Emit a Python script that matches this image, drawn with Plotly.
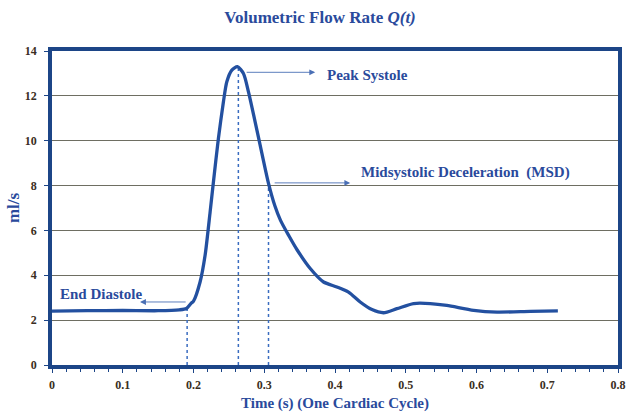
import plotly.graph_objects as go

# Flow-rate curve over one cardiac cycle
time_s = [0.0, 0.05, 0.10, 0.15, 0.18, 0.19, 0.1965, 0.200, 0.2093, 0.2164, 0.2235,
          0.2282, 0.2352, 0.2423, 0.2471, 0.2542, 0.2621, 0.2706, 0.2777, 0.2871,
          0.2966, 0.306, 0.315, 0.323, 0.335, 0.3461, 0.365, 0.3838, 0.4027, 0.4191,
          0.4356, 0.4522, 0.4686, 0.4875, 0.511, 0.5347, 0.558, 0.596, 0.629,
          0.676, 0.715]
flow_mls = [2.40, 2.42, 2.43, 2.42, 2.46, 2.52, 2.75, 2.85, 3.70, 4.89, 6.83,
            8.17, 10.10, 11.74, 12.63, 13.15, 13.30, 13.00, 12.18, 10.84,
            9.45, 8.10, 7.10, 6.45, 5.75, 5.15, 4.30, 3.70, 3.48, 3.25,
            2.81, 2.47, 2.33, 2.51, 2.74, 2.74, 2.66, 2.44, 2.36,
            2.39, 2.41]

# Marker events (time, flow)
event_names = ["End Diastole", "Peak Systole", "Midsystolic Deceleration  (MSD)"]
event_t = [0.191, 0.2634, 0.306]
event_q = [2.52, 13.30, 8.10]

x_ticks = [0, 0.1, 0.2, 0.3, 0.4, 0.5, 0.6, 0.7, 0.8]
x_tick_labels = ["0", "0.1", "0.2", "0.3", "0.4", "0.5", "0.6", "0.7", "0.8"]
y_ticks = [0, 2, 4, 6, 8, 10, 12, 14]

BLUE = "#2350a0"
NAVY = "#1c4587"
TXT = "#2a4a9c"
TICKTXT = "#3a2e22"
SERIF = "Liberation Serif, Times New Roman, serif"

fig = go.Figure()

for t, q in zip(event_t, event_q):
    fig.add_trace(go.Scatter(x=[t, t], y=[0, q], mode="lines",
                             line=dict(color="#3a6cc0", width=1.5, dash="dot"),
                             hoverinfo="skip", showlegend=False))

fig.add_trace(go.Scatter(x=time_s, y=flow_mls, mode="lines",
                         line=dict(color=BLUE, width=3.3, shape="spline", smoothing=0.7),
                         showlegend=False))

annot_font = dict(family=SERIF, size=15, color=TXT, weight="bold")

# arrows: (tail x, tail y, head x, head y)
arrows = [
    (0.191, 2.81, 0.1245, 2.81),
    (0.273, 13.05, 0.372, 13.05),
    (0.3126, 8.12, 0.4215, 8.12),
]
for tx, ty, hx, hy in arrows:
    fig.add_annotation(x=hx, y=hy, ax=tx, ay=ty, xref="x", yref="y", axref="x", ayref="y",
                       text="", showarrow=True, arrowhead=2, arrowsize=1.3,
                       arrowwidth=0.9, arrowcolor="#4a6fb5")

label_pos = [(0.0085, 3.15), (0.386, 12.95), (0.434, 8.57)]
for name, (lx, ly) in zip(event_names, label_pos):
    fig.add_annotation(x=lx, y=ly, text=name, showarrow=False,
                       xanchor="left", yanchor="middle", font=annot_font)

fig.update_layout(
    width=628, height=416,
    margin=dict(l=52, r=10, t=51, b=51),
    paper_bgcolor="white", plot_bgcolor="white",
    title=dict(text="Volumetric Flow Rate <i>Q(t)</i>", x=0.5096, xanchor="center",
               y=0.959, yanchor="middle",
               font=dict(family=SERIF, size=17, color=TXT, weight="bold")),
    xaxis=dict(range=[0, 0.8], tickvals=x_ticks, ticktext=x_tick_labels,
               showgrid=False, zeroline=False, automargin=False,
               showline=True, mirror=True, linecolor=NAVY, linewidth=3.5,
               ticks="outside", ticklen=4, tickcolor=NAVY, tickwidth=1,
               ticklabelstandoff=2,
               minor=dict(dtick=0.02, ticks="outside", ticklen=3, tickcolor=NAVY, showgrid=False),
               tickfont=dict(family=SERIF, size=12, color=TICKTXT, weight="bold"),
               title=dict(text="Time (s) (One Cardiac Cycle)", standoff=7,
                          font=dict(family=SERIF, size=15, color=TXT, weight="bold"))),
    yaxis=dict(range=[0, 14], tickvals=y_ticks,
               showgrid=True, gridcolor="#6e6e62", gridwidth=1, zeroline=False,
               automargin=False,
               showline=True, mirror=True, linecolor=NAVY, linewidth=3.5,
               ticks="outside", ticklen=4, tickcolor=NAVY, tickwidth=1,
               ticklabelstandoff=5,
               tickfont=dict(family=SERIF, size=12, color=TICKTXT, weight="bold"),
               title=dict(text="ml/s", standoff=2,
                          font=dict(family=SERIF, size=17, color=TXT, weight="bold"))),
)

fig.write_html("out.html", config={"displayModeBar": False},
               post_script="document.body.style.margin='0';document.body.style.overflow='hidden';")
